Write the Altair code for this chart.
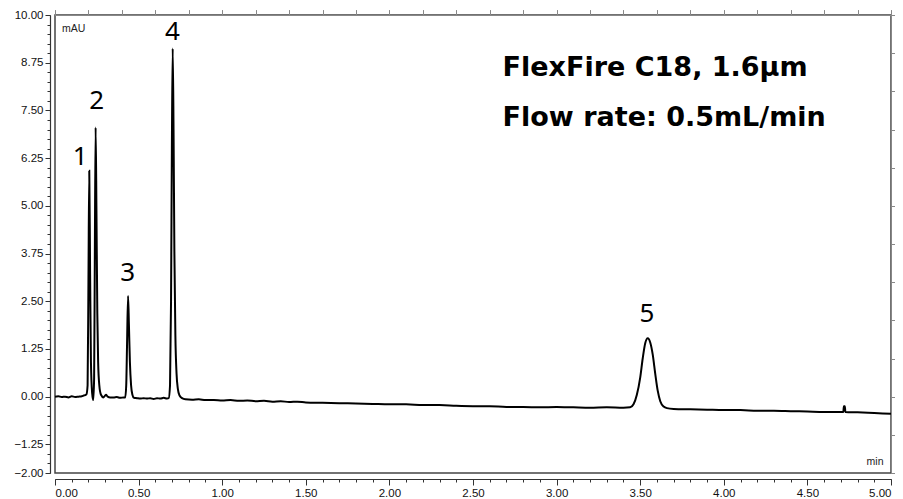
import altair as alt
import pandas as pd

# chromatogram trace (min, mAU)
time_min = [
    0.000, 0.020, 0.040, 0.060, 0.080, 0.100, 0.120, 0.140, 0.160, 0.172, 0.180, 0.188,
    0.195, 0.200, 0.205, 0.210, 0.215, 0.222, 0.229, 0.234, 0.238, 0.243, 0.248, 0.253,
    0.258, 0.265, 0.275, 0.290, 0.305, 0.315, 0.330, 0.350, 0.370, 0.390, 0.410, 0.420,
    0.426, 0.431, 0.437, 0.442, 0.448, 0.455, 0.463, 0.472, 0.490, 0.510, 0.530, 0.550,
    0.570, 0.590, 0.610, 0.630, 0.650, 0.670, 0.680, 0.688, 0.694, 0.699, 0.704, 0.709,
    0.714, 0.720, 0.727, 0.735, 0.745, 0.760, 0.780, 0.820, 0.860, 0.900, 0.950, 1.000,
    1.050, 1.100, 1.150, 1.200, 1.250, 1.300, 1.350, 1.400, 1.450, 1.500, 1.600, 1.700,
    1.800, 1.900, 2.000, 2.100, 2.200, 2.300, 2.400, 2.500, 2.600, 2.700, 2.800, 2.900,
    3.000, 3.100, 3.200, 3.300, 3.400, 3.440, 3.460, 3.480, 3.500, 3.515, 3.530, 3.545,
    3.560, 3.575, 3.590, 3.605, 3.620, 3.640, 3.660, 3.700, 3.800, 3.900, 4.000, 4.100,
    4.200, 4.300, 4.400, 4.500, 4.600, 4.700, 4.715, 4.718, 4.724, 4.727, 4.800, 4.900,
    5.000,
]
signal_mau = [
    0.00, 0.01, -0.01, 0.00, -0.02, 0.01, -0.01, 0.00, 0.01, 0.03, 0.04, 0.06,
    0.30, 3.00, 5.92, 3.20, 0.90, 0.10, -0.09, 0.50, 3.50, 7.05, 4.80, 2.20,
    0.90, 0.30, 0.05, -0.02, 0.05, 0.00, -0.02, -0.02, -0.01, -0.03, -0.02, -0.02,
    0.30, 1.40, 2.64, 1.90, 0.90, 0.30, 0.05, -0.03, -0.04, -0.05, -0.04, -0.05,
    -0.04, -0.06, -0.04, -0.05, -0.03, -0.05, -0.04, 0.30, 2.50, 6.50, 9.12, 7.00,
    3.80, 1.60, 0.60, 0.20, 0.03, -0.04, -0.07, -0.08, -0.07, -0.09, -0.09, -0.10,
    -0.09, -0.11, -0.10, -0.12, -0.11, -0.13, -0.12, -0.14, -0.13, -0.15, -0.16, -0.17,
    -0.18, -0.19, -0.20, -0.20, -0.22, -0.22, -0.24, -0.25, -0.25, -0.27, -0.27, -0.28,
    -0.27, -0.28, -0.29, -0.28, -0.29, -0.28, -0.20, 0.05, 0.50, 1.00, 1.40, 1.53,
    1.42, 1.10, 0.60, 0.15, -0.12, -0.26, -0.30, -0.32, -0.33, -0.34, -0.35, -0.35,
    -0.37, -0.37, -0.38, -0.39, -0.40, -0.40, -0.40, -0.25, -0.25, -0.40, -0.41, -0.43,
    -0.45,
]

peak_ids = ["1", "2", "3", "4", "5"]
peak_label_t = [0.150, 0.249, 0.434, 0.702, 3.540]
peak_label_v = [6.07, 7.53, 3.03, 9.35, 1.96]

note_lines = ["FlexFire C18, 1.6μm", "Flow rate: 0.5mL/min"]
note_t = [2.677, 2.677]
note_v = [8.41, 7.08]

unit_texts = ["mAU", "min"]
unit_t = [0.042, 4.955]
unit_v = [9.63, -1.70]

x_major = [0.0, 0.5, 1.0, 1.5, 2.0, 2.5, 3.0, 3.5, 4.0, 4.5, 5.0]
x_minor = [round(i * 0.1, 2) for i in range(51)]
y_major = [-2.0, -1.25, 0.0, 1.25, 2.5, 3.75, 5.0, 6.25, 7.5, 8.75, 10.0]
y_minor = [round(-2 + i * 0.25, 2) for i in range(49)]

trace = pd.DataFrame({"t": time_min, "v": signal_mau})
peaks = pd.DataFrame({"t": peak_label_t, "v": peak_label_v, "label": peak_ids})
notes = pd.DataFrame({"t": note_t, "v": note_v, "label": note_lines})
units = pd.DataFrame({"t": unit_t, "v": unit_v, "label": unit_texts})

xs = alt.Scale(domain=[0, 5], nice=False)
ys = alt.Scale(domain=[-2, 10], nice=False)

axis_common = dict(domainColor="#333333", tickColor="#333333", labelColor="#111111",
                   labelFont="Liberation Sans", labelFontSize=11.5, grid=False, title=None)

x_axis_major = alt.Axis(values=x_major, format=".2f", orient="bottom", offset=6,
                        tickSize=6, labelPadding=2, domainWidth=1.2, **axis_common)
y_axis_major = alt.Axis(values=y_major, format=".2f", orient="left", offset=5,
                        tickSize=5, labelPadding=2, domainWidth=1.2, **axis_common)
x_axis_minor = alt.Axis(values=x_minor, labels=False, orient="bottom", offset=6,
                        tickSize=3, domain=False, tickColor="#333333", grid=False, title=None)
y_axis_minor = alt.Axis(values=y_minor, labels=False, orient="left", offset=5,
                        tickSize=3, domain=False, tickColor="#333333", grid=False, title=None)

line = alt.Chart(trace).mark_line(color="black", strokeWidth=2, interpolate="monotone").encode(
    x=alt.X("t:Q", scale=xs, axis=x_axis_major),
    y=alt.Y("v:Q", scale=ys, axis=y_axis_major),
)

minor = alt.Chart(trace).mark_line(opacity=0).encode(
    x=alt.X("t:Q", scale=xs, axis=x_axis_minor),
    y=alt.Y("v:Q", scale=ys, axis=y_axis_minor),
)

peak_text = alt.Chart(peaks).mark_text(font="Noto Sans", fontSize=26, color="black",
                                       align="center", baseline="alphabetic").encode(
    x=alt.X("t:Q", scale=xs), y=alt.Y("v:Q", scale=ys), text="label:N")

note_text = alt.Chart(notes).mark_text(font="DejaVu Sans", fontSize=27, fontWeight="bold",
                                       color="black", align="left", baseline="alphabetic").encode(
    x=alt.X("t:Q", scale=xs), y=alt.Y("v:Q", scale=ys), text="label:N")

unit_left = alt.Chart(units.iloc[[0]]).mark_text(font="Liberation Sans", fontSize=10.5,
                                                  color="#222222", align="left", baseline="middle").encode(
    x=alt.X("t:Q", scale=xs), y=alt.Y("v:Q", scale=ys), text="label:N")
unit_right = alt.Chart(units.iloc[[1]]).mark_text(font="Liberation Sans", fontSize=10.5,
                                                   color="#222222", align="right", baseline="middle").encode(
    x=alt.X("t:Q", scale=xs), y=alt.Y("v:Q", scale=ys), text="label:N")

chart = alt.layer(line, minor, peak_text, note_text, unit_left, unit_right).resolve_axis(
    x="independent", y="independent"
).properties(
    width=836, height=458,
    autosize=alt.AutoSizeParams(type="none"),
    padding={"left": 47, "top": 7, "right": 4, "bottom": 26},
    background="white",
).configure_view(stroke="#444444", strokeWidth=1.5)

chart.save("out.html", embed_options={"renderer": "svg", "actions": False})
